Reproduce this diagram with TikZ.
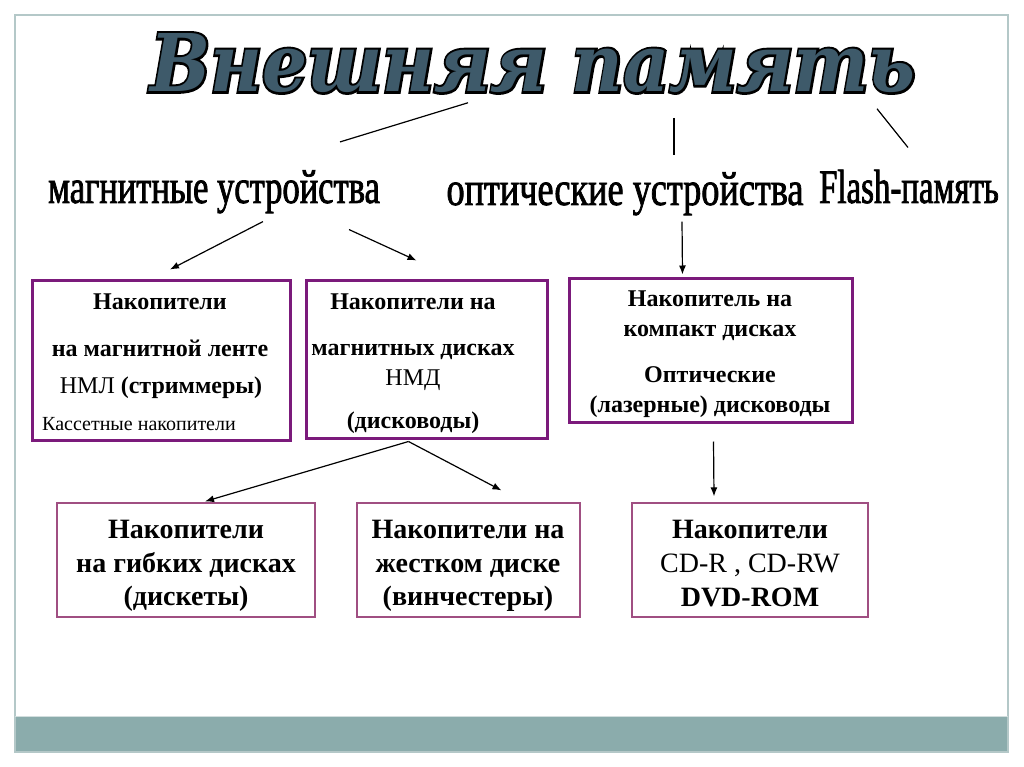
\documentclass[tikz,border=0pt]{standalone}
\usepackage{fontspec}
\setmainfont{Liberation Serif}
\newfontfamily\titlefill{DejaVu Serif Bold Italic}
\newfontfamily\titleedge[FakeBold=6]{DejaVu Serif Bold Italic}
\newfontfamily\narrowfont[FakeStretch=0.72,FakeBold=1.5]{Liberation Serif}
\newfontfamily\optfont[FakeStretch=0.755,FakeBold=1.5]{Liberation Serif}
\newfontfamily\flashfont[FakeStretch=0.685,FakeBold=1.5]{Liberation Serif}
\usetikzlibrary{positioning,arrows.meta}

\definecolor{framegray}{HTML}{B4C8C8}
\definecolor{barteal}{HTML}{8BACAC}
\definecolor{boxpurple}{HTML}{7B1A7B}
\definecolor{thinpurple}{HTML}{A04F82}
\definecolor{titleslate}{HTML}{3E5A6A}

\tikzstyle{thickbox}=[draw=boxpurple, line width=3pt, inner sep=0pt]
\tikzstyle{thinbox}=[draw=thinpurple, line width=1.2pt, inner sep=0pt]
\tikzstyle{head}=[anchor=base, inner sep=0pt, font=\narrowfont\fontsize{48}{50}\selectfont]
\tikzstyle{bline}=[anchor=base, inner sep=0pt, font=\fontsize{24}{28}\selectfont\bfseries]
\tikzstyle{rline}=[anchor=base, inner sep=0pt, font=\fontsize{24}{28}\selectfont]
\tikzstyle{bigline}=[anchor=base, inner sep=0pt, font=\fontsize{28}{32}\selectfont\bfseries]
\tikzstyle{link}=[line width=1.2pt]
\tikzstyle{arr}=[link, -{Latex[length=9pt,width=7pt]}]

\newcommand\titleword{\resizebox{765pt}{58pt}{\fontsize{60}{60}\selectfont Внешняя память}}

\begin{document}
\begin{tikzpicture}[x=1pt,y=-1pt]
	\useasboundingbox (0,0) rectangle (1024,767);

	% slide frame
	\fill[barteal] (15,716) rectangle (1008,752);
	\draw[framegray, line width=1.5pt] (15,752) -- (15,15) -- (1008,15) -- (1008,752) -- cycle;
	\draw[framegray!60, line width=1pt] (15,716) -- (1008,716);

	% title
	\node (titleedge) [inner sep=0pt, text=black] at (533,63) {\titleedge\titleword};
	\node (title) [inner sep=0pt, text=titleslate] at (533,63) {\titlefill\titleword};

	% kinds of devices
	\node (magn) [head] at (214,203) {магнитные устройства};
	\node (opt) [head, font=\optfont\fontsize{48}{50}\selectfont] at (625,205) {оптические устройства};
	\node (flash) [head, font=\flashfont\fontsize{48}{50}\selectfont] at (909,203) {Flash-память};

	\draw[link] ([xshift=-65pt,yshift=-10pt]title.south) -- ([xshift=126pt,yshift=28pt]magn.north);
	\draw[link] ([xshift=141pt,yshift=-25pt]title.south) -- ([xshift=49pt,yshift=17pt]opt.north);
	\draw[link] ([xshift=344pt,yshift=-16pt]title.south) -- ([xshift=-1pt,yshift=22pt]flash.north);

	% upper boxes
	\node (nml) [thickbox, minimum width=258pt, minimum height=160pt] at (161,360) {};
	\node (nml1) [bline] at (160,309) {Накопители};
	\node (nml2) [bline] at (160,356) {на магнитной ленте};
	\node (nml3) [bline] at (161,393) {{\mdseries НМЛ} (стриммеры)};
	\node (nml4) [anchor=base west, inner sep=0pt, font=\fontsize{20}{24}\selectfont] at (42,430) {Кассетные накопители};

	\node (nmd) [thickbox, minimum width=241pt, minimum height=158pt] at (426.5,359) {};
	\node (nmd1) [bline] at (413,309) {Накопители на};
	\node (nmd2) [bline] at (413,355) {магнитных дисках};
	\node (nmd3) [rline] at (413,385) {НМД};
	\node (nmd4) [bline] at (413,428) {(дисководы)};

	\node (cd) [thickbox, minimum width=283pt, minimum height=144pt] at (710.5,350) {};
	\node (cd1) [bline] at (710,306) {Накопитель на};
	\node (cd2) [bline] at (710,336) {компакт дисках};
	\node (cd3) [bline] at (710,382) {Оптические};
	\node (cd4) [bline] at (710,412) {(лазерные) дисководы};

	% lower boxes
	\node (gmd) [thinbox, minimum width=258pt, minimum height=114pt] at (186,560) {};
	\node (gmd1) [bigline] at (186,538) {Накопители};
	\node (gmd2) [bigline] at (186,572) {на гибких дисках};
	\node (gmd3) [bigline] at (186,605) {(дискеты)};

	\node (hdd) [thinbox, minimum width=223pt, minimum height=114pt] at (468.5,560) {};
	\node (hdd1) [bigline] at (468,538) {Накопители на};
	\node (hdd2) [bigline] at (468,572) {жестком диске};
	\node (hdd3) [bigline] at (468,605) {(винчестеры)};

	\node (cdr) [thinbox, minimum width=236pt, minimum height=114pt] at (750,560) {};
	\node (cdr1) [bigline] at (750,538) {Накопители};
	\node (cdr2) [bigline, font=\fontsize{28}{32}\selectfont\mdseries] at (750,572) {CD-R , CD-RW};
	\node (cdr3) [bigline] at (750,606) {DVD-ROM};

	% arrows
	\draw[arr] ([xshift=49pt,yshift=-8pt]magn.south) -- ([xshift=9pt,yshift=9pt]nml.north);
	\draw[arr] ([xshift=135pt,yshift=-16pt]magn.south) -- ([xshift=-10pt,yshift=18pt]nmd.north);
	\draw[arr] ([xshift=57pt,yshift=-6pt]opt.south) -- ([xshift=-28pt,yshift=2pt]cd.north);
	\draw[arr] ([xshift=-18pt,yshift=-2pt]nmd.south) -- ([xshift=19pt,yshift=1pt]gmd.north);
	\draw[arr] ([xshift=-18pt,yshift=-2pt]nmd.south) -- ([xshift=33pt,yshift=12pt]hdd.north);
	\draw[arr] ([xshift=3pt,yshift=-18pt]cd.south) -- ([xshift=-36pt,yshift=6pt]cdr.north);
\end{tikzpicture}
\end{document}
